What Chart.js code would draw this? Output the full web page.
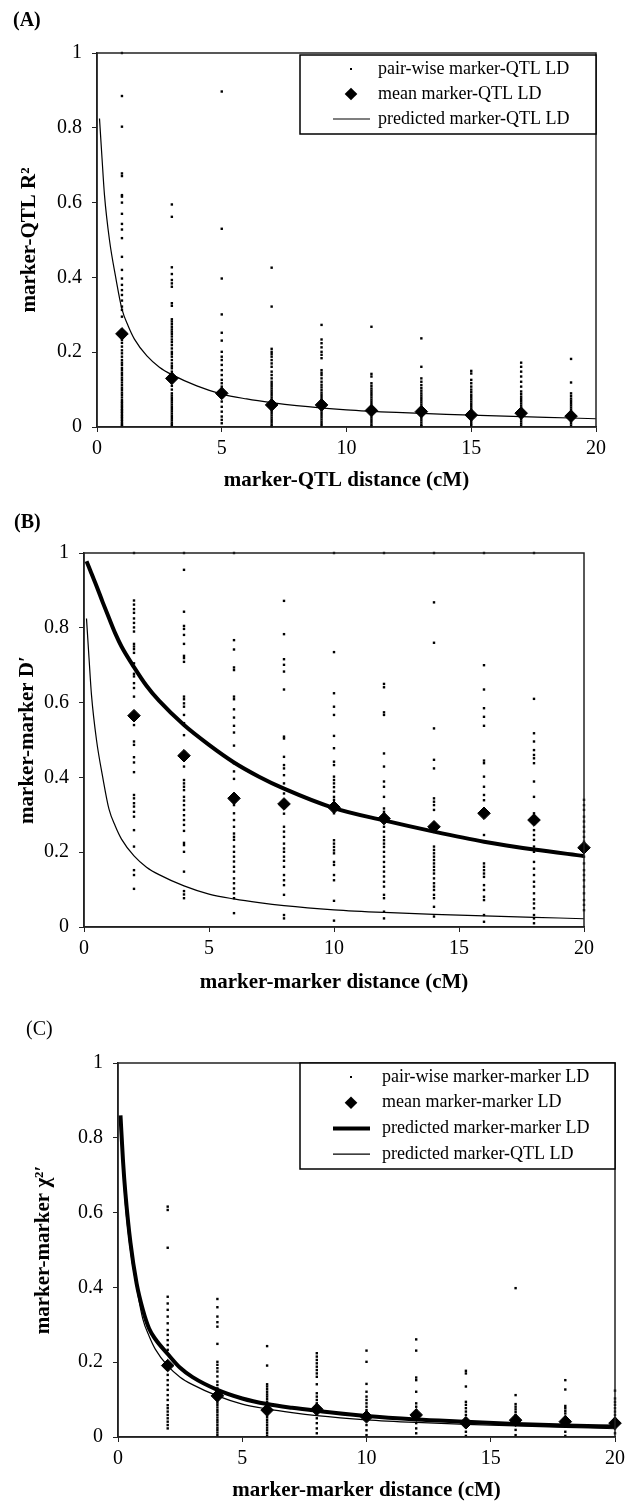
<!DOCTYPE html>
<html>
<head>
<meta charset="utf-8">
<script src="https://cdn.jsdelivr.net/npm/chart.js@4.4.1/dist/chart.umd.min.js"></script>
<style>
  body { margin: 0; background: #fff; }
  .panel { position: absolute; left: 0; width: 632px; }
  canvas { display: block; }
</style>
</head>
<body>
<div class="panel" style="top:0;height:500px"><canvas id="chartA" width="632" height="500"></canvas></div>
<div class="panel" style="top:500px;height:500px"><canvas id="chartB" width="632" height="500"></canvas></div>
<div class="panel" style="top:1000px;height:503px"><canvas id="chartC" width="632" height="503"></canvas></div>
<script>
// (A) marker-QTL R2, pair-wise values per distance class
const distA = [1, 3, 5, 7, 9, 11, 13, 15, 17, 19];
const pairA = [
  [1.0, 0.885, 0.803, 0.678, 0.671, 0.62, 0.616, 0.6, 0.57, 0.543, 0.528, 0.505, 0.455, 0.42, 0.397, 0.38, 0.366, 0.353, 0.338, 0.322, 0.313, 0.295, 0.24, 0.233, 0.225, 0.215, 0.205, 0.197, 0.188, 0.179, 0.172, 0.166, 0.158, 0.152, 0.145, 0.139, 0.132, 0.126, 0.119, 0.112, 0.105, 0.099, 0.092, 0.086, 0.079, 0.072, 0.067, 0.063, 0.058, 0.054, 0.049, 0.045, 0.041, 0.037, 0.032, 0.028, 0.024, 0.019, 0.015, 0.01, 0.006, 0.003],
  [0.595, 0.562, 0.427, 0.409, 0.393, 0.384, 0.375, 0.331, 0.324, 0.288, 0.282, 0.275, 0.268, 0.261, 0.255, 0.249, 0.242, 0.234, 0.227, 0.219, 0.21, 0.201, 0.195, 0.188, 0.179, 0.17, 0.163, 0.157, 0.148, 0.14, 0.12, 0.11, 0.1, 0.09, 0.084, 0.078, 0.072, 0.066, 0.06, 0.054, 0.048, 0.042, 0.036, 0.03, 0.024, 0.018, 0.012, 0.007, 0.003],
  [0.897, 0.53, 0.397, 0.301, 0.252, 0.231, 0.201, 0.188, 0.179, 0.166, 0.152, 0.139, 0.126, 0.117, 0.108, 0.099, 0.081, 0.068, 0.054, 0.041, 0.028, 0.019, 0.01],
  [0.426, 0.322, 0.209, 0.201, 0.195, 0.188, 0.179, 0.17, 0.161, 0.148, 0.139, 0.13, 0.121, 0.115, 0.109, 0.103, 0.097, 0.091, 0.085, 0.079, 0.073, 0.067, 0.061, 0.055, 0.049, 0.043, 0.037, 0.031, 0.025, 0.019, 0.013, 0.007, 0.002],
  [0.273, 0.234, 0.224, 0.213, 0.201, 0.193, 0.184, 0.152, 0.145, 0.139, 0.13, 0.121, 0.113, 0.106, 0.099, 0.092, 0.086, 0.08, 0.074, 0.068, 0.062, 0.056, 0.05, 0.044, 0.038, 0.032, 0.026, 0.02, 0.014, 0.008, 0.003],
  [0.268, 0.142, 0.135, 0.117, 0.11, 0.103, 0.097, 0.091, 0.085, 0.079, 0.073, 0.067, 0.061, 0.055, 0.049, 0.043, 0.037, 0.031, 0.025, 0.019, 0.013, 0.007, 0.002],
  [0.237, 0.161, 0.13, 0.121, 0.112, 0.104, 0.097, 0.09, 0.084, 0.078, 0.072, 0.066, 0.06, 0.054, 0.048, 0.042, 0.036, 0.03, 0.024, 0.018, 0.012, 0.006, 0.002],
  [0.15, 0.143, 0.126, 0.117, 0.108, 0.1, 0.093, 0.086, 0.08, 0.074, 0.068, 0.062, 0.056, 0.05, 0.044, 0.038, 0.032, 0.026, 0.02, 0.014, 0.008, 0.003],
  [0.172, 0.161, 0.148, 0.135, 0.121, 0.108, 0.095, 0.088, 0.081, 0.075, 0.069, 0.063, 0.057, 0.051, 0.045, 0.039, 0.033, 0.027, 0.021, 0.015, 0.009, 0.003],
  [0.182, 0.119, 0.09, 0.083, 0.076, 0.07, 0.064, 0.058, 0.052, 0.046, 0.04, 0.034, 0.028, 0.022, 0.016, 0.01, 0.004],
];
const meanA = [0.249, 0.13, 0.09, 0.059, 0.059, 0.044, 0.041, 0.032, 0.037, 0.029];

// (B) marker-marker D'
const distB = [2, 4, 6, 8, 10, 12, 14, 16, 18, 20];
const pairB = [
  [1.0, 0.873, 0.862, 0.85, 0.84, 0.825, 0.813, 0.801, 0.79, 0.757, 0.75, 0.743, 0.733, 0.705, 0.677, 0.67, 0.652, 0.639, 0.616, 0.54, 0.496, 0.487, 0.454, 0.44, 0.414, 0.353, 0.344, 0.331, 0.322, 0.308, 0.295, 0.259, 0.215, 0.152, 0.139, 0.102],
  [1.0, 0.955, 0.843, 0.805, 0.797, 0.781, 0.757, 0.725, 0.719, 0.709, 0.616, 0.609, 0.598, 0.589, 0.567, 0.545, 0.513, 0.429, 0.393, 0.384, 0.375, 0.366, 0.348, 0.338, 0.326, 0.313, 0.299, 0.286, 0.273, 0.257, 0.225, 0.219, 0.201, 0.148, 0.096, 0.087, 0.077],
  [1.0, 0.767, 0.742, 0.694, 0.687, 0.616, 0.609, 0.582, 0.56, 0.538, 0.52, 0.485, 0.438, 0.416, 0.396, 0.326, 0.304, 0.286, 0.268, 0.25, 0.241, 0.233, 0.215, 0.201, 0.188, 0.175, 0.161, 0.148, 0.13, 0.117, 0.103, 0.09, 0.077, 0.037],
  [0.872, 0.783, 0.716, 0.701, 0.683, 0.635, 0.509, 0.504, 0.455, 0.433, 0.424, 0.406, 0.384, 0.371, 0.357, 0.303, 0.268, 0.255, 0.241, 0.223, 0.21, 0.201, 0.188, 0.177, 0.161, 0.139, 0.125, 0.112, 0.086, 0.032, 0.023],
  [1.0, 0.735, 0.625, 0.589, 0.567, 0.511, 0.478, 0.442, 0.433, 0.402, 0.393, 0.384, 0.374, 0.362, 0.348, 0.34, 0.304, 0.232, 0.223, 0.214, 0.205, 0.197, 0.174, 0.166, 0.139, 0.125, 0.07, 0.017],
  [1.0, 0.65, 0.641, 0.574, 0.567, 0.464, 0.429, 0.389, 0.375, 0.348, 0.317, 0.308, 0.295, 0.268, 0.255, 0.241, 0.232, 0.223, 0.214, 0.201, 0.188, 0.174, 0.161, 0.148, 0.135, 0.121, 0.108, 0.086, 0.077, 0.041, 0.023],
  [1.0, 0.868, 0.76, 0.531, 0.447, 0.424, 0.344, 0.335, 0.326, 0.313, 0.215, 0.206, 0.197, 0.188, 0.179, 0.17, 0.161, 0.152, 0.143, 0.13, 0.117, 0.108, 0.099, 0.086, 0.077, 0.054, 0.028],
  [1.0, 0.7, 0.635, 0.585, 0.562, 0.538, 0.445, 0.438, 0.402, 0.375, 0.353, 0.339, 0.246, 0.228, 0.17, 0.161, 0.152, 0.143, 0.134, 0.112, 0.099, 0.081, 0.072, 0.032, 0.014],
  [1.0, 0.61, 0.518, 0.496, 0.473, 0.46, 0.451, 0.438, 0.389, 0.348, 0.304, 0.259, 0.246, 0.233, 0.215, 0.201, 0.174, 0.156, 0.139, 0.121, 0.108, 0.09, 0.074, 0.063, 0.05, 0.032, 0.023, 0.01],
  [0.34, 0.326, 0.313, 0.295, 0.282, 0.268, 0.255, 0.241, 0.228, 0.21, 0.188, 0.17, 0.152, 0.139, 0.125, 0.108, 0.09, 0.072, 0.059, 0.045],
];
const meanB = [0.565, 0.458, 0.344, 0.329, 0.32, 0.29, 0.268, 0.304, 0.286, 0.212];

// (C) marker-marker chi2'
const distC = [2, 4, 6, 8, 10, 12, 14, 16, 18, 20];
const pairC = [
  [0.616, 0.607, 0.506, 0.375, 0.357, 0.34, 0.322, 0.304, 0.286, 0.273, 0.259, 0.246, 0.233, 0.18, 0.166, 0.152, 0.139, 0.126, 0.112, 0.099, 0.085, 0.077, 0.068, 0.059, 0.05, 0.041, 0.032, 0.023],
  [0.369, 0.347, 0.322, 0.307, 0.295, 0.249, 0.201, 0.193, 0.184, 0.175, 0.162, 0.148, 0.139, 0.13, 0.12, 0.099, 0.092, 0.086, 0.079, 0.072, 0.066, 0.059, 0.052, 0.045, 0.039, 0.032, 0.025, 0.019, 0.012, 0.005],
  [0.243, 0.191, 0.141, 0.135, 0.128, 0.121, 0.114, 0.108, 0.101, 0.094, 0.087, 0.081, 0.067, 0.06, 0.053, 0.046, 0.039, 0.032, 0.025, 0.018, 0.011, 0.004],
  [0.224, 0.215, 0.206, 0.197, 0.188, 0.179, 0.17, 0.161, 0.141, 0.117, 0.108, 0.099, 0.09, 0.081, 0.063, 0.05, 0.037, 0.023, 0.01],
  [0.231, 0.201, 0.142, 0.121, 0.108, 0.099, 0.09, 0.081, 0.072, 0.063, 0.045, 0.032, 0.018, 0.005],
  [0.261, 0.231, 0.159, 0.152, 0.121, 0.09, 0.081, 0.072, 0.063, 0.05, 0.037, 0.023, 0.01],
  [0.177, 0.17, 0.135, 0.094, 0.086, 0.077, 0.068, 0.059, 0.05, 0.027, 0.014, 0.003],
  [0.398, 0.112, 0.088, 0.081, 0.074, 0.067, 0.059, 0.032, 0.019, 0.005],
  [0.152, 0.127, 0.083, 0.077, 0.07, 0.063, 0.054, 0.028, 0.014, 0.003],
  [0.124, 0.103, 0.094, 0.086, 0.077, 0.068, 0.059, 0.05, 0.023, 0.01],
];
const meanC = [0.191, 0.11, 0.072, 0.074, 0.054, 0.059, 0.038, 0.045, 0.041, 0.037];

const predDist = [0.1, 0.2, 0.3, 0.5, 0.75, 1, 1.25, 1.5, 2, 2.5, 3, 4, 5, 6, 7, 8, 10, 12, 14, 16, 18, 20];
const predQTL = [0.825, 0.72, 0.62, 0.5, 0.4, 0.315, 0.27, 0.235, 0.19, 0.16, 0.14, 0.11, 0.088, 0.075, 0.065, 0.057, 0.046, 0.039, 0.034, 0.03, 0.026, 0.022];
const predMarkerD = [0.978, 0.962, 0.945, 0.912, 0.868, 0.826, 0.785, 0.75, 0.695, 0.645, 0.605, 0.54, 0.487, 0.44, 0.402, 0.37, 0.318, 0.285, 0.255, 0.228, 0.207, 0.19];
const predMarkerChi = [0.86, 0.74, 0.65, 0.52, 0.41, 0.34, 0.29, 0.262, 0.222, 0.185, 0.16, 0.126, 0.103, 0.088, 0.078, 0.07, 0.056, 0.047, 0.041, 0.035, 0.031, 0.028];

const FONT = '"Liberation Serif", "Times New Roman", serif';

const columnsToPoints = (xs, cols) => xs.flatMap((x, i) => cols[i].map((y) => ({ x, y })));
const zipPoints = (xs, ys) => xs.map((x, i) => ({ x, y: ys[i] }));

const dotSet = (label, xs, cols) => ({
  label,
  data: columnsToPoints(xs, cols),
  pointStyle: 'rect',
  pointRadius: 1.7,
  pointBorderWidth: 0,
  backgroundColor: '#000',
  borderColor: '#000',
  clip: false,
  order: 3,
});
const meanSet = (label, xs, ys) => ({
  label,
  data: zipPoints(xs, ys),
  pointStyle: 'rectRot',
  pointRadius: 6.3,
  pointBorderWidth: 1,
  backgroundColor: '#000',
  borderColor: '#000',
  clip: false,
  order: 0,
});
const curveSet = (label, ys, width, order) => ({
  label,
  data: zipPoints(predDist, ys),
  showLine: true,
  pointRadius: 0,
  borderWidth: width,
  borderColor: '#000',
  cubicInterpolationMode: 'monotone',
  order,
});

// frame round the plot, and the boxed legend inside it
const boxLegend = {
  id: 'boxLegend',
  afterDraw(chart, args, opts) {
    const { ctx, chartArea } = chart;
    ctx.save();
    ctx.strokeStyle = '#222';
    ctx.lineWidth = 1.5;
    ctx.strokeRect(chartArea.left, chartArea.top, chartArea.width, chartArea.height);
    if (!opts.display) {
      ctx.restore();
      return;
    }
    const left = chartArea.right - opts.width;
    const top = chartArea.top + opts.offsetTop;
    ctx.fillStyle = '#fff';
    ctx.fillRect(left, top, opts.width, opts.height);
    ctx.strokeStyle = '#000';
    ctx.strokeRect(left, top, opts.width, opts.height);
    ctx.font = `18px ${FONT}`;
    ctx.textBaseline = 'middle';
    ctx.textAlign = 'left';
    chart.data.datasets.forEach((ds, i) => {
      const y = top + opts.firstRow + i * opts.rowGap;
      const sx = left + opts.symbolX;
      ctx.fillStyle = '#000';
      if (ds.showLine) {
        ctx.beginPath();
        ctx.lineWidth = ds.borderWidth;
        ctx.moveTo(sx - 18, y);
        ctx.lineTo(sx + 19, y);
        ctx.stroke();
      } else if (ds.pointStyle === 'rectRot') {
        const r = ds.pointRadius;
        ctx.beginPath();
        ctx.moveTo(sx - r, y);
        ctx.lineTo(sx, y - r);
        ctx.lineTo(sx + r, y);
        ctx.lineTo(sx, y + r);
        ctx.closePath();
        ctx.fill();
      } else {
        ctx.fillRect(sx - 1, y - 1, 2, 2);
      }
      ctx.fillText(ds.label, left + opts.textX, y);
    });
    ctx.restore();
  },
};

const makePanel = (id, p) => {
  const fixY = (scale) => {
    scale.width = p.yAxisWidth;
    scale.paddingTop = 0;
    scale.paddingBottom = 0;
  };
  const fixX = (scale) => {
    scale.height = p.xAxisHeight;
    scale.paddingLeft = 0;
    scale.paddingRight = 0;
  };
  const axis = (min, max, step, title, pad, fit) => ({
    type: 'linear',
    min,
    max,
    ticks: {
      stepSize: step,
      color: '#000',
      padding: 5,
      font: { family: FONT, size: 20 },
      callback: (v) => String(Number(v.toFixed(1))),
    },
    grid: { drawOnChartArea: false, drawTicks: true, tickLength: 5, color: '#222', lineWidth: 1 },
    border: { display: true, color: '#222', width: 1.5 },
    title: { display: true, text: title, color: '#000', padding: pad, font: { family: FONT, size: 21, weight: 'bold' } },
    afterFit: fit,
  });
  const yAxis = axis(0, 1, 0.2, p.yTitle, { top: p.yTitlePad, bottom: 0 }, fixY);
  yAxis.ticks.padding = 10;
  return new Chart(document.getElementById(id), {
    type: 'scatter',
    data: { datasets: p.datasets },
    options: {
      responsive: false,
      animation: false,
      events: [],
      devicePixelRatio: 1,
      layout: { padding: p.padding },
      scales: {
        x: axis(0, 20, 5, p.xTitle, { top: 0, bottom: p.xTitlePad }, fixX),
        y: yAxis,
      },
      plugins: {
        legend: { display: false },
        tooltip: { enabled: false },
        title: {
          display: true,
          text: p.label,
          align: 'start',
          color: '#000',
          padding: { top: 0, bottom: p.labelPad },
          font: { family: FONT, size: 20, weight: p.labelWeight },
        },
        boxLegend: p.legend,
      },
    },
    plugins: [boxLegend],
  });
};

makePanel('chartA', {
  label: '(A)',
  labelWeight: 'bold',
  labelPad: 20,
  padding: { left: 13, right: 36, top: 9, bottom: 0 },
  yAxisWidth: 84,
  yTitle: 'marker-QTL R²',
  yTitlePad: 4.4,
  xAxisHeight: 73,
  xTitle: 'marker-QTL distance (cM)',
  xTitlePad: 6.4,
  datasets: [
    dotSet('pair-wise marker-QTL LD', distA, pairA),
    meanSet('mean marker-QTL LD', distA, meanA),
    curveSet('predicted marker-QTL LD', predQTL, 1.2, 1),
  ],
  legend: { display: true, width: 296, height: 79, offsetTop: 2, firstRow: 14, rowGap: 25, symbolX: 51, textX: 78 },
});

makePanel('chartB', {
  label: '(B)',
  labelWeight: 'bold',
  labelPad: 18,
  padding: { left: 14, right: 48, top: 11, bottom: 0 },
  yAxisWidth: 70,
  yTitle: 'marker-marker D′',
  yTitlePad: 1.4,
  xAxisHeight: 73,
  xTitle: 'marker-marker distance (cM)',
  xTitlePad: 4.4,
  datasets: [
    dotSet('pair-wise marker-marker LD', distB, pairB),
    meanSet('mean marker-marker LD', distB, meanB),
    curveSet('predicted marker-marker LD', predMarkerD, 4, 1),
    curveSet('predicted marker-QTL LD', predQTL, 1.2, 2),
  ],
  legend: { display: false },
});

makePanel('chartC', {
  label: '(C)',
  labelWeight: 'normal',
  labelPad: 21,
  padding: { left: 26, right: 17, top: 18, bottom: 0 },
  yAxisWidth: 92,
  yTitle: 'marker-marker χ²′',
  yTitlePad: 5.4,
  xAxisHeight: 66,
  xTitle: 'marker-marker distance (cM)',
  xTitlePad: 0,
  datasets: [
    dotSet('pair-wise marker-marker LD', distC, pairC),
    meanSet('mean marker-marker LD', distC, meanC),
    curveSet('predicted marker-marker LD', predMarkerChi, 4, 1),
    curveSet('predicted marker-QTL LD', predQTL, 1.2, 2),
  ],
  legend: { display: true, width: 315, height: 106, offsetTop: 0, firstRow: 14, rowGap: 25.7, symbolX: 51, textX: 82 },
});
</script>
</body>
</html>
